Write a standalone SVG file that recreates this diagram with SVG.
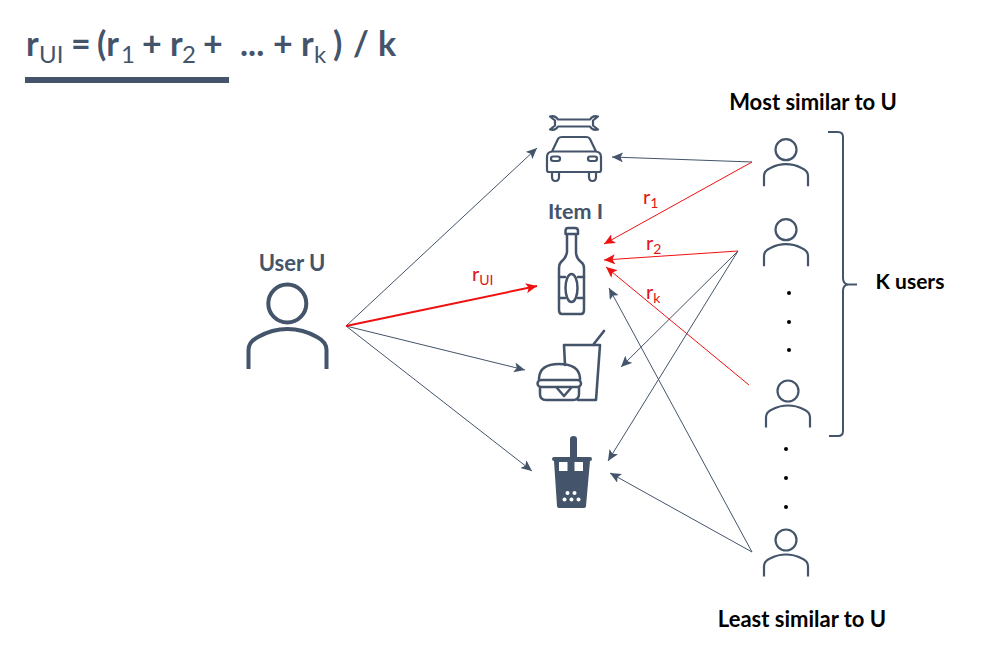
<svg xmlns="http://www.w3.org/2000/svg" width="985" height="652" viewBox="0 0 985 652">
<style>
text{font-family:"Lato","Open Sans",sans-serif}
.t{font-weight:700;fill:#44546a}
.b{font-weight:700;fill:#000;font-size:22px}
.r{fill:#e01515;font-size:20px}
.ic{fill:none;stroke:#44546a;stroke-linecap:round;stroke-linejoin:round}
.u{fill:none;stroke:#44546a;stroke-width:2.2}
.g{stroke:#44546a;stroke-width:1;fill:none;marker-end:url(#ag)}
.e{stroke:#ee1111;stroke-width:1;fill:none;marker-end:url(#ar)}
</style>
<defs>
<marker id="ag" markerUnits="userSpaceOnUse" markerWidth="12" markerHeight="10" refX="11" refY="5" orient="auto"><path d="M0 0L11 5L0 10L2.500 5Z" fill="#44546a"/></marker>
<marker id="ar" markerUnits="userSpaceOnUse" markerWidth="12" markerHeight="10" refX="11" refY="5" orient="auto"><path d="M0 0L11 5L0 10L2.500 5Z" fill="#ee1111"/></marker>
<g id="smallUser"><circle cx="0" cy="0" r="10.500" class="u"/><path class="u" d="M-22 36.500V26Q-22 21-15 18Q-8 14.500 0 14.500Q8 14.500 15 18Q22 21 22 26V36.500"/></g>
</defs>
<g id="formula" class="t" font-size="34">
<text x="26" y="56">r</text><text x="39" y="63" font-size="24" font-weight="400">UI</text>
<text x="71" y="56">=</text><text x="97" y="56">(r</text><text x="121" y="63" font-size="24" font-weight="400">1</text>
<text x="142" y="56">+</text><text x="170" y="56">r</text><text x="182" y="63" font-size="24" font-weight="400">2</text>
<text x="203" y="56">+</text><text x="240" y="56">...</text><text x="273" y="56">+</text><text x="301" y="56">r</text><text x="314" y="63" font-size="24" font-weight="400">k</text>
<text x="333" y="56">)</text><text x="353" y="56">/</text><text x="378" y="56">k</text>
</g>
<rect id="formula-rule" x="25" y="77" width="204" height="6" fill="#44546a"/>
<g id="connectors">
<path class="g" d="M346 326L537 148"/>
<path class="g" d="M346 326L525 370"/>
<path class="g" d="M346 326L532 471"/>
<path d="M346 326L537 286" stroke="#ee1111" stroke-width="2" fill="none" marker-end="url(#ar)"/>
<path class="g" d="M752 162L612 157"/>
<path class="e" d="M752 162L604 244"/>
<path class="e" d="M738 251L604 260"/>
<path class="e" d="M749 385L606 267"/>
<path class="g" d="M738 251L621 367"/>
<path class="g" d="M738 251L608 461"/>
<path class="g" d="M752 552L609 288"/>
<path class="g" d="M752 552L610 473"/>
</g>
<g id="user-u"><text class="t" x="292" y="271" font-size="22" text-anchor="middle">User U</text>
<circle cx="287.300" cy="303.500" r="19" class="ic" stroke-width="4"/>
<path class="ic" style="stroke-linecap:butt" stroke-width="4" d="M248.500 369V350Q248.500 342 258 337Q272 329 287.500 329Q303 329 317 337Q326.500 342 326.500 350V369"/></g>
<g id="item-car" class="ic" stroke-width="2.200">
<path d="M558 119.500H590A7 7 0 0 1 598 116.500L593 120.500V125.500L598 129.500A7 7 0 0 1 590 126.500H558A7 7 0 0 1 550 129.500L555 125.500V120.500L550 116.500A7 7 0 0 1 558 119.500Z"/>
<path d="M547 170V157Q547 152 552 151.500L558 139Q559 137 562 137H586Q589 137 590 139L596 151.500Q601 152 601 157V170Q601 172 599 172H549Q547 172 547 170ZM552 151.500H596"/>
<rect x="551" y="156.500" width="9" height="4.500" rx="2.200"/><rect x="588" y="156.500" width="9" height="4.500" rx="2.200"/>
<path d="M552 172V177Q552 181 555.500 181Q559 181 559 177V172M589 172V177Q589 181 592.500 181Q596 181 596 177V172"/></g>
<g id="item-bottle"><text class="t" x="575.500" y="219" font-size="21.500" text-anchor="middle">Item I</text>
<g class="ic" stroke-width="2.500">
<path d="M565.500 234V231Q565.500 228 568 228H575Q578 228 578 231V234ZM567 234V252Q566 258 561 262Q559 264 559 268V310Q559 314 562 314H581Q584 314 584 310V268Q584 264 581 262Q576 258 576 252V234"/>
<ellipse cx="571.500" cy="288" rx="6" ry="14"/><path d="M559 277H565M559 298H565M578 277H584M578 298H584"/></g></g>
<g id="item-burger" class="ic" stroke-width="2.500">
<path d="M565 365L564 345H600L596 400H578M593 345L604 331" stroke-width="2.600"/>
<path d="M539 380V378Q540 364 559 364Q579 364 580 378V380"/>
<rect x="537.500" y="380" width="43.500" height="7" rx="3.500"/>
<path d="M540 387V394Q540 400 546 400H573Q579 400 579 394V387M557 388L564 396L571 388"/></g>
<g id="item-boba"><path fill="#44546a" d="M570 457V439Q570 436 573.500 436Q577 436 577 439V457H590Q592 457 592 459Q592 461 590 461L586 506Q586 508 584 508H559Q557 508 557 506L554 461Q552 461 552 459Q552 457 554 457Z"/>
<g fill="#fff"><rect x="559" y="462" width="8.500" height="9"/><rect x="574.500" y="462" width="8.500" height="9"/><circle cx="567.500" cy="493" r="2"/><circle cx="574.500" cy="493" r="2"/><circle cx="564.500" cy="499.500" r="2"/><circle cx="571.500" cy="499.500" r="2"/><circle cx="578.500" cy="499.500" r="2"/></g></g>
<use id="user-1" href="#smallUser" x="786" y="149.700"/>
<use id="user-2" href="#smallUser" x="786" y="229.700"/>
<use id="user-k" href="#smallUser" x="788" y="391"/>
<use id="user-n" href="#smallUser" x="786" y="540"/>
<g id="dots" fill="#000"><circle cx="789" cy="293" r="2"/><circle cx="789" cy="322" r="2"/><circle cx="789" cy="350" r="2"/><circle cx="786" cy="449" r="2"/><circle cx="786" cy="478" r="2"/><circle cx="786" cy="507" r="2"/></g>
<path id="brace" fill="none" stroke="#44546a" stroke-width="2" d="M828 132H838Q843 132 843 137V278Q843 284 848 284.500H857M848 284.500Q843 285 843 291V431Q843 436 838 436H829"/>
<g id="labels">
<text class="b" x="813" y="110" text-anchor="middle">Most similar to U</text>
<text class="b" x="802" y="627" text-anchor="middle">Least similar to U</text>
<text class="b" x="910" y="289" text-anchor="middle" style="font-size:21px">K users</text>
<text class="r" x="643" y="204">r<tspan font-size="14" dy="4">1</tspan></text>
<text class="r" x="646" y="250">r<tspan font-size="14" dy="4">2</tspan></text>
<text class="r" x="646" y="299">r<tspan font-size="14" dy="4">k</tspan></text>
<text class="r" x="472" y="281">r<tspan font-size="14" dy="4">UI</tspan></text>
</g>
</svg>
